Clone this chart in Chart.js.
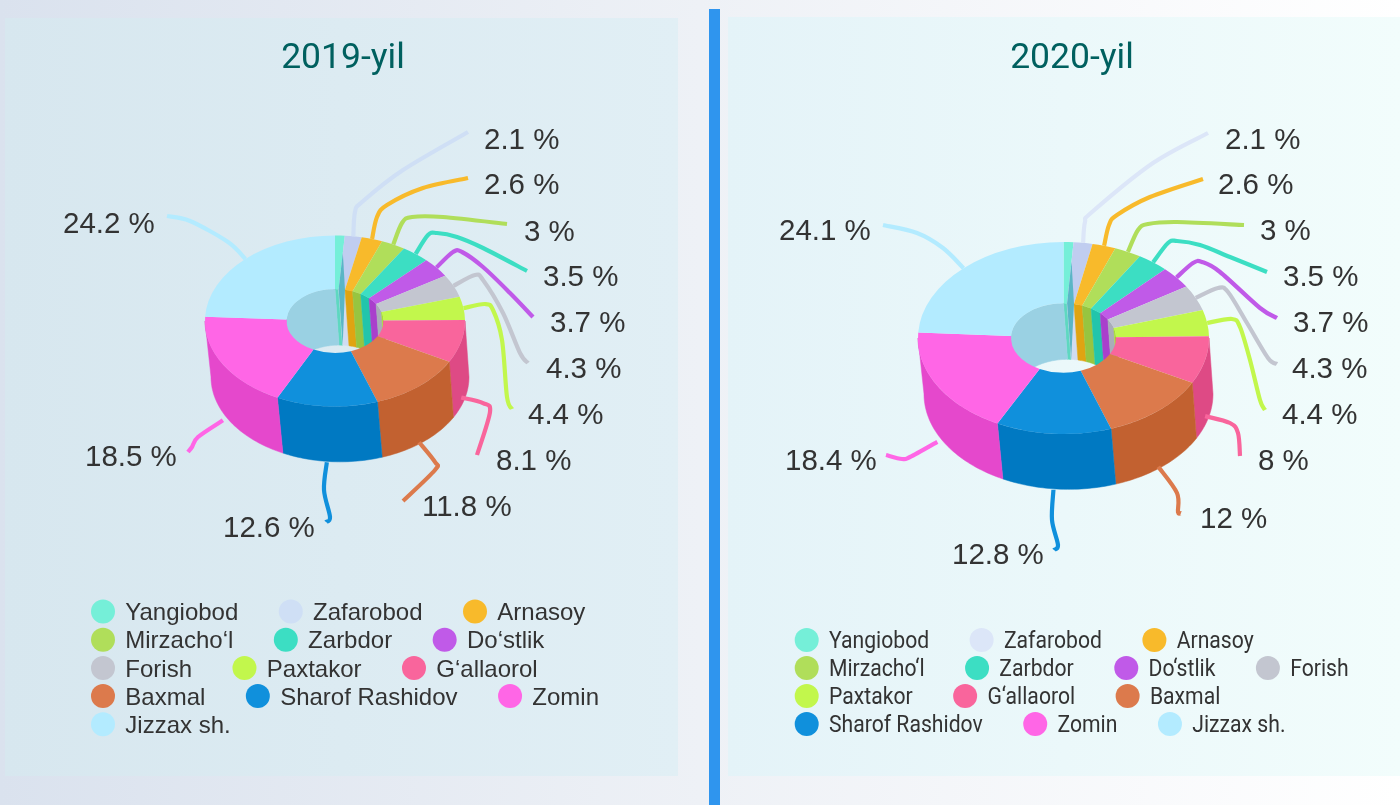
<!DOCTYPE html>
<html>
<head>
<meta charset="utf-8">
<script src="https://cdn.jsdelivr.net/npm/chart.js@4"></script>
<style>
html,body{margin:0;padding:0;width:1400px;height:805px;overflow:hidden;background:linear-gradient(90deg,#dae2ee 0%,#eef1f6 50%,#ffffff 100%);}
.panel{position:absolute;}
#p1{left:5px;top:18px;width:673px;height:758px;background:linear-gradient(90deg,#d7e7ef,#e1eff5);}
#p2{left:728px;top:17px;width:672px;height:759px;background:linear-gradient(90deg,#e4f3f8,#f2fdfc);}
#bar{position:absolute;left:709px;top:9px;width:11px;height:796px;background:#2f95ee;}
canvas{position:absolute;top:0;}
#c1{left:0;}
#c2{left:700px;}
</style>
</head>
<body>
<div class="panel" id="p1"></div>
<div class="panel" id="p2"></div>
<div id="bar"></div>
<canvas id="c1" width="700" height="805"></canvas>
<canvas id="c2" width="700" height="805"></canvas>
<script>
const categories = ["Yangiobod","Zafarobod","Arnasoy","Mirzacho\u2018l","Zarbdor","Do\u2018stlik","Forish","Paxtakor","G\u2018allaorol","Baxmal","Sharof Rashidov","Zomin","Jizzax sh."];
const values2019 = [1.2,2.1,2.6,3,3.5,3.7,4.3,4.4,8.1,11.8,12.6,18.5,24.2];
const values2020 = [1.1,2.1,2.6,3,3.5,3.7,4.3,4.4,8,12,12.8,18.4,24.1];
const labelled2019 = [null,"2.1 %","2.6 %","3 %","3.5 %","3.7 %","4.3 %","4.4 %","8.1 %","11.8 %","12.6 %","18.5 %","24.2 %"];
const labelled2020 = [null,"2.1 %","2.6 %","3 %","3.5 %","3.7 %","4.3 %","4.4 %","8 %","12 %","12.8 %","18.4 %","24.1 %"];
const topColors = ["#75efd8","#c0cdf0","#f8ba2b","#b0de5a","#3cdec3","#c05ae8","#c3c6d0","#c2f74c","#f9659c","#dc7a4c","#1090dc","#ff66e6","#b3ebff"];
const wallColors = ["#5ed8c0","#d0dcf2","#e0a412","#97c540","#22c5ab","#a93fcc","#a9acb8","#a9de33","#de4a85","#c26130","#0079c2","#e548cc","#9ad1e3"];
const legendColors1 = ["#75efd8","#cfdff5","#f8ba2b","#b0de5a","#3cdec3","#c05ae8","#c3c6d0","#c2f74c","#f9659c","#dc7a4c","#1090dc","#ff66e6","#b3ebff"];
const legendColors2 = ["#75efd8","#dce6f8","#f8ba2b","#b0de5a","#3cdec3","#c05ae8","#c3c6d0","#c2f74c","#f9659c","#dc7a4c","#1090dc","#ff66e6","#b3ebff"];
const sliceFaceColor = "#5ab6c6";

/* layout: label left x / centre y, in page coordinates */
const labelPos1 = [null,[484,139],[484,184],[524,231],[543,276],[550,322],[546,368],[528,414],[496,460],[422,506],[223,527],[85,456],[63,223]];
const labelPos2 = [null,[1225,139],[1218,184],[1260,230],[1283,276],[1293,322],[1292,368],[1282,414],[1258,460],[1200,518],[952,554],[785,460],[779,230]];
/* layout: leader routes after the rim anchor, in page coordinates */
const route1 = [null,
 [[355,212],[362,202],[403,170],[468,132]],
 [[377,217],[387,205],[423,188],[468,178]],
 [[402,223],[412,217],[443,217],[507,224]],
 [[428,235],[437,233],[457,237],[483,248],[527,271]],
 [[453,252],[462,252],[483,267],[510,293],[533,317]],
 [[475,275],[483,280],[503,313],[520,353],[528,363]],
 [[485,304],[493,310],[502,340],[507,397],[512,409]],
 [[483,403],[490,412],[477,455]],
 [[435,462],[435,470],[403,501]],
 [[324,490],[330,517],[326,522]],
 [[198,437],[192,447],[188,452]],
 [[228,242],[190,221],[167,216]]];
const route2 = [null,
 [[1085,222],[1092,212],[1153,163],[1208,133]],
 [[1109,225],[1117,215],[1150,197],[1203,179]],
 [[1138,230],[1148,224],[1177,222],[1244,225]],
 [[1168,243],[1177,241],[1200,245],[1230,257],[1267,272]],
 [[1193,263],[1202,262],[1220,272],[1260,308],[1277,318]],
 [[1218,288],[1228,292],[1247,323],[1268,358],[1277,364]],
 [[1232,319],[1240,327],[1250,360],[1260,400],[1265,410]],
 [[1230,423],[1238,433],[1240,456]],
 [[1177,493],[1178,512],[1181,513]],
 [[1052,520],[1058,545],[1054,550]],
 [[910,457],[902,459],[886,455]],
 [[943,248],[917,233],[883,225]]];
const legendRows1 = [[0,1,2],[3,4,5],[6,7,8],[9,10,11],[12]];
const legendRows2 = [[0,1,2],[3,4,5,6],[7,8,9],[10,11,12]];

function spline(ctx, pts){
  ctx.beginPath();
  ctx.moveTo(pts[0][0],pts[0][1]);
  for(let i=0;i<pts.length-1;i++){
    const p0=pts[Math.max(i-1,0)],p1=pts[i],p2=pts[i+1],p3=pts[Math.min(i+2,pts.length-1)];
    ctx.bezierCurveTo(p1[0]+(p2[0]-p0[0])/6,p1[1]+(p2[1]-p0[1])/6,p2[0]-(p3[0]-p1[0])/6,p2[1]-(p3[1]-p1[1])/6,p2[0],p2[1]);
  }
  ctx.stroke();
}

function make(canvasId, o){
  const R=o.rx, W=700, H=805;
  const plugin = {
    id:'pie3d',
    beforeDatasetsDraw(chart){
      const ctx=chart.ctx, arcs=chart.getDatasetMeta(0).data;
      const cx=arcs[0].x, cy=arcs[0].y;
      const k=o.ry/R, hole=o.hole, h=o.depth;
      const ring=(a,r,dx,dy)=>[cx+dx+r*Math.cos(a),cy+dy+r*k*Math.sin(a)];
      const tracePart=(a0,a1,r,dx,dy,first)=>{
        const n=Math.max(2,Math.ceil(Math.abs(a1-a0)*40));
        for(let i=0;i<=n;i++){
          const p=ring(a0+(a1-a0)*i/n,r,dx,dy);
          if(i===0&&first)ctx.moveTo(p[0],p[1]);else ctx.lineTo(p[0],p[1]);
        }
      };
      const TAU=Math.PI*2;
      arcs.forEach((el,i)=>{
        const s=el.startAngle,e=el.endAngle;
        [0,TAU].forEach(shift=>{
          const a0=Math.max(s+shift,Math.PI), a1=Math.min(e+shift,TAU);
          if(a1<=a0)return;
          ctx.beginPath();
          tracePart(a0,a1,R*hole,0,0,true);
          tracePart(a1,a0,R*hole,o.innerShift,h,false);
          ctx.closePath();
          ctx.fillStyle=wallColors[i];ctx.strokeStyle=wallColors[i];ctx.lineWidth=.5;
          ctx.fill();ctx.stroke();
        });
      });
      arcs.forEach((el,i)=>{
        const s=el.startAngle,e=el.endAngle;
        [0,TAU].forEach(shift=>{
          const a0=Math.max(s+shift,0), a1=Math.min(e+shift,Math.PI);
          if(a1<=a0)return;
          ctx.beginPath();
          tracePart(a0,a1,R,0,0,true);
          tracePart(a1,a0,R-1,o.outerShift,h,false);
          ctx.closePath();
          ctx.fillStyle=wallColors[i];ctx.strokeStyle=wallColors[i];ctx.lineWidth=.5;
          ctx.fill();ctx.stroke();
        });
      });
      ctx.save();
      ctx.translate(cx,cy);ctx.scale(1,k);ctx.translate(-cx,-cy);
    },
    afterDatasetsDraw(chart){
      const ctx=chart.ctx, arcs=chart.getDatasetMeta(0).data;
      ctx.restore();
      const cx=arcs[0].x, cy=arcs[0].y, k=o.ry/R, h=o.depth, hole=o.hole;
      const ring=(a,r,dx,dy)=>[cx+dx+r*Math.cos(a),cy+dy+r*k*Math.sin(a)];
      const a=arcs[0].endAngle, b=arcs[1].endAngle;
      const f=[ring(a,R*.8,0,0),ring(b,R*hole,0,0),ring(a,R*hole,o.innerShift,h),ring(a,R*hole,0,0)];
      ctx.beginPath();f.forEach((p,i)=>i?ctx.lineTo(p[0],p[1]):ctx.moveTo(p[0],p[1]));ctx.closePath();
      ctx.fillStyle=sliceFaceColor;ctx.fill();
      ctx.lineJoin='round';ctx.lineCap='butt';ctx.lineWidth=4.2;
      arcs.forEach((el,i)=>{
        if(!o.route[i])return;
        const mid=(el.startAngle+el.endAngle)/2;
        const p=ring(mid,R,0,0);
        if(Math.sin(mid)>0.05)p[1]+=h;
        const pts=[p].concat(o.route[i].map(q=>[q[0]-o.offset,q[1]]));
        ctx.strokeStyle=o.legendColors[i];
        spline(ctx,pts);
      });
    },
    afterDraw(chart){
      const ctx=chart.ctx;
      ctx.save();
      ctx.textBaseline='middle';ctx.textAlign='left';
      ctx.font='35.5px Roboto';ctx.fillStyle='#00605f';ctx.textAlign='center';
      ctx.fillText(o.title,o.titleX-o.offset,59);
      ctx.textAlign='left';
      ctx.font='29.5px "Liberation Sans"';ctx.fillStyle='#333333';
      o.labels.forEach((t,i)=>{
        if(t)ctx.fillText(t,o.labelPos[i][0]-o.offset,o.labelPos[i][1]+2);
      });
      ctx.font=o.legendFont;
      o.rows.forEach((row,ri)=>{
        let x=o.legendX-o.offset;
        const y=o.legendY+ri*o.legendStep;
        row.forEach(i=>{
          ctx.beginPath();ctx.arc(x,y,12,0,Math.PI*2);ctx.fillStyle=o.legendColors[i];ctx.fill();
          ctx.fillStyle='#333333';
          ctx.save();
          ctx.translate(x+22.3,y+2);ctx.scale(o.legendScaleX,1);
          ctx.fillText(categories[i],0,0);
          ctx.restore();
          x+=22.3+ctx.measureText(categories[i]).width*o.legendScaleX+52.5;
        });
      });
      ctx.restore();
    }
  };
  const cxLocal=o.cx-o.offset;
  return new Chart(document.getElementById(canvasId),{
    type:'doughnut',
    data:{labels:categories,datasets:[{data:o.values,backgroundColor:topColors,borderWidth:0,clip:false}]},
    options:{
      responsive:false,animation:false,cutout:(o.hole*100)+'%',
      layout:{padding:{left:cxLocal-R,right:W-cxLocal-R,top:o.cy-R,bottom:H-o.cy-R}},
      plugins:{legend:{display:false},tooltip:{enabled:false},title:{display:false}}
    },
    plugins:[plugin]
  });
}

make('c1',{offset:0,cx:335,cy:321,rx:130,ry:85.5,hole:.373,depth:56,outerShift:5,innerShift:4,
  values:values2019,labels:labelled2019,labelPos:labelPos1,route:route1,rows:legendRows1,legendColors:legendColors1,
  title:'2019-yil',titleX:343,legendX:103,legendY:611.5,legendStep:28.2,legendFont:'24px "Liberation Sans"',legendScaleX:1});
make('c2',{offset:700,cx:1063.5,cy:338,rx:145.5,ry:96,hole:.361,depth:56,outerShift:5,innerShift:4,
  values:values2020,labels:labelled2020,labelPos:labelPos2,route:route2,rows:legendRows2,legendColors:legendColors2,
  title:'2020-yil',titleX:1072,legendX:806.7,legendY:640,legendStep:28,legendFont:'23px Roboto',legendScaleX:0.92});
</script>
</body>
</html>
